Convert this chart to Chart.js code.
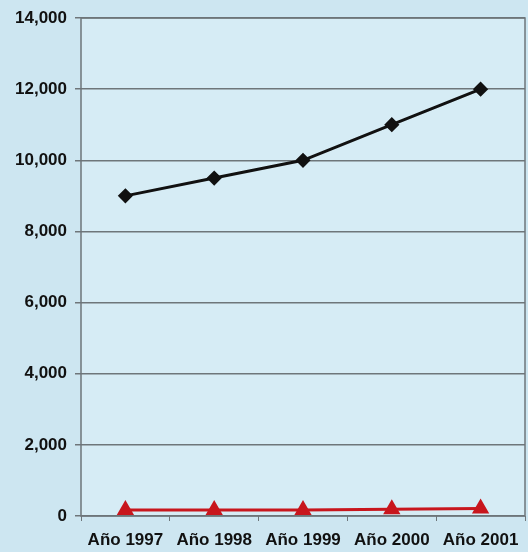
<!DOCTYPE html>
<html>
<head>
<meta charset="utf-8">
<script src="https://cdn.jsdelivr.net/npm/chart.js@4"></script>
<style>
html,body{margin:0;padding:0;background:#cde6f1;}
#wrap{width:528px;height:552px;}
</style>
</head>
<body>
<div id="wrap"><canvas id="myChart"></canvas></div>
<script>
const labels=['Año 1997','Año 1998','Año 1999','Año 2000','Año 2001']
const serieA=[9000,9500,10000,11000,12000]
const serieB=[170,170,170,190,210]

const border={
    id:'border',
    afterDatasetsDraw(c){
        const a=c.chartArea,g=c.ctx
        g.save()
        g.strokeStyle='#6e767a'
        g.lineWidth=1.5
        g.strokeRect(a.left,a.top,a.right-a.left,a.bottom-a.top)
        g.restore()
    }
}
const bg={
    id:'bg',
    beforeDraw(c){
        const a=c.chartArea,g=c.ctx
        g.save()
        g.fillStyle='#d6ecf5'
        g.fillRect(a.left,a.top,a.right-a.left,a.bottom-a.top)
        g.restore()
    }
}

const ctx=document.getElementById('myChart').getContext('2d')
const font={family:'"Liberation Sans", Arial, sans-serif',size:17,weight:'bold'}
new Chart(ctx,{
    type:'line',
    data:{
        labels,
        datasets:[
            {
                data:serieA,
                borderColor:'#111111',
                backgroundColor:'#111111',
                borderWidth:3,
                pointStyle:'rectRot',
                pointRadius:5.5,
                tension:0
            },
            {
                data:serieB,
                borderColor:'#c8161d',
                backgroundColor:'#c8161d',
                borderWidth:3,
                pointStyle:'triangle',
                pointRadius:7,
                tension:0
            }
        ]
    },
    plugins:[bg,border],
    options:{
        responsive:true,
        maintainAspectRatio:false,
        animation:false,
        layout:{autoPadding:false,padding:{top:18,right:3,left:0,bottom:0}},
        plugins:{legend:{display:false},tooltip:{enabled:false}},
        scales:{
            x:{
                offset:true,
                grid:{display:true,drawOnChartArea:false,offset:true,color:'#6e767a',tickLength:5},
                border:{display:false},
                ticks:{color:'#111',font,padding:9,maxRotation:0,autoSkip:false},
                afterFit:s=>{s.height=36;s.paddingLeft=0;s.paddingRight=0}
            },
            y:{
                min:0,max:14000,
                grid:{color:'#6e767a',lineWidth:1.5,tickLength:6},
                border:{display:false},
                ticks:{stepSize:2000,color:'#111',font,padding:8},
                afterFit:s=>{s.width=81;s.paddingTop=0;s.paddingBottom=0}
            }
        }
    }
})
</script>
</body>
</html>
